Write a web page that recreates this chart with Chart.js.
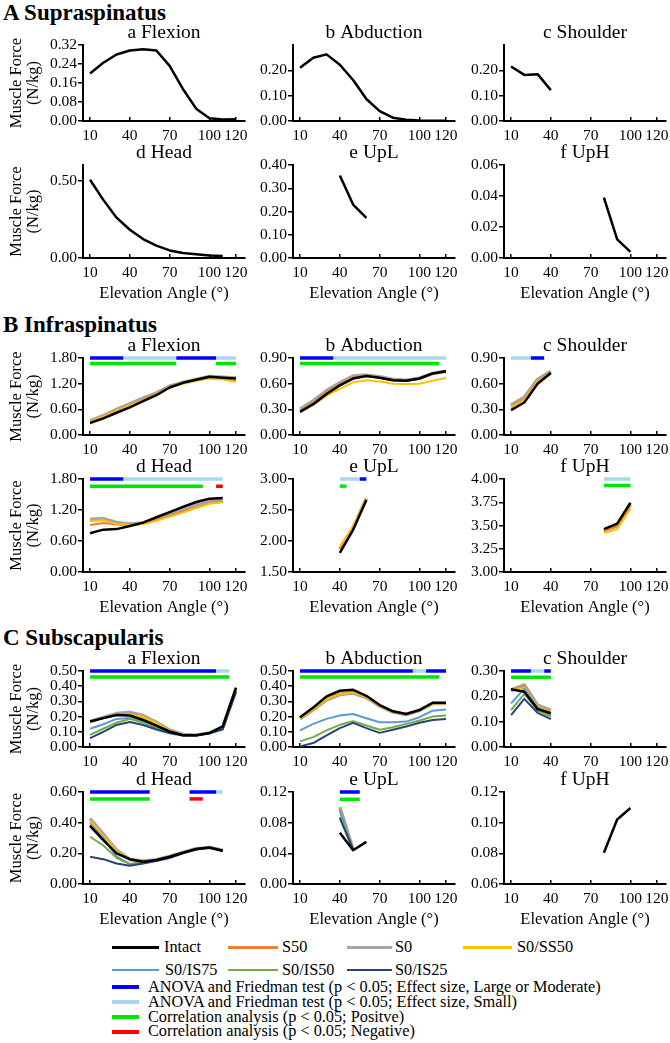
<!DOCTYPE html>
<html><head><meta charset="utf-8">
<script src="https://cdn.jsdelivr.net/npm/chart.js@4.4.0/dist/chart.umd.min.js"></script>
<style>
html,body{margin:0;padding:0;background:#fff;}
body{width:670px;height:1043px;position:relative;overflow:hidden;font-family:"Liberation Serif","Times New Roman",serif;color:#000;}
canvas{position:absolute;}
.hdr{position:absolute;left:3px;font-weight:bold;font-size:23px;line-height:26px;white-space:nowrap;}
.lg{position:absolute;font-size:16.3px;line-height:16px;white-space:nowrap;}
.ln{position:absolute;}
</style></head><body>
<div class="hdr" style="top:0px">A Supraspinatus</div>
<div class="hdr" style="top:312px">B Infraspinatus</div>
<div class="hdr" style="top:625px">C Subscapularis</div>
<div id="legend"></div>
<script>
// ---------- DATA ----------
const angles = [10, 20, 30, 40, 50, 60, 70, 80, 90, 100, 110, 120];
const xTickLabels = [10, 40, 70, 100, 120];

// A Supraspinatus (Intact only)
const supFlexIntact = [0.200, 0.245, 0.280, 0.297, 0.302, 0.297, 0.232, 0.135, 0.052, 0.012, 0.006, 0.007];
const supAbdIntact  = [0.210, 0.250, 0.263, 0.222, 0.162, 0.087, 0.039, 0.013, 0.005, 0.002, 0.001, 0.001];
const supShoIntact  = [0.215, 0.182, 0.185, 0.122];
const supHeadIntact = [0.505, 0.375, 0.260, 0.182, 0.122, 0.080, 0.049, 0.032, 0.024, 0.016, 0.013, null];
const supUpLIntact  = [null, null, null, 0.355, 0.230, 0.173];
const supUpHIntact  = [null, null, null, null, null, null, null, 0.039, 0.012, 0.004];

// B Infraspinatus
const infFlexIntact = [0.28, 0.39, 0.52, 0.645, 0.79, 0.93, 1.11, 1.22, 1.29, 1.36, 1.34, 1.32];
const infFlexS50    = [0.31, 0.43, 0.57, 0.70, 0.83, 0.96, 1.12, 1.21, 1.28, 1.33, 1.31, 1.26];
const infFlexS0     = [0.33, 0.45, 0.60, 0.73, 0.86, 0.98, 1.14, 1.23, 1.30, 1.37, 1.35, 1.33];
const infFlexSS50   = [0.31, 0.43, 0.57, 0.70, 0.815, 0.945, 1.11, 1.20, 1.27, 1.32, 1.30, 1.24];

const infAbdIntact = [0.27, 0.36, 0.48, 0.58, 0.66, 0.69, 0.67, 0.64, 0.635, 0.66, 0.72, 0.745];
const infAbdS50    = [0.28, 0.38, 0.50, 0.59, 0.67, 0.69, 0.67, 0.64, 0.63, 0.655, 0.715, 0.74];
const infAbdS0     = [0.30, 0.40, 0.52, 0.61, 0.69, 0.70, 0.68, 0.65, 0.64, 0.665, 0.72, 0.745];
const infAbdSS50   = [0.27, 0.355, 0.46, 0.54, 0.615, 0.64, 0.625, 0.60, 0.595, 0.60, 0.635, 0.665];

const infShoIntact = [0.29, 0.38, 0.60, 0.725];
const infShoS50    = [0.33, 0.42, 0.63, 0.73];
const infShoS0     = [0.35, 0.44, 0.65, 0.745];
const infShoSS50   = [0.32, 0.41, 0.625, 0.72];

const infHeadIntact = [0.75, 0.82, 0.83, 0.89, 0.955, 1.06, 1.16, 1.26, 1.355, 1.42, 1.43, null];
const infHeadS50    = [0.91, 0.95, 0.92, 0.90, 0.935, 1.00, 1.09, 1.17, 1.25, 1.33, 1.36, null];
const infHeadS0     = [1.02, 1.03, 0.96, 0.93, 0.95, 1.02, 1.12, 1.21, 1.30, 1.38, 1.40, null];
const infHeadSS50   = [0.98, 1.00, 0.93, 0.91, 0.93, 0.99, 1.07, 1.15, 1.24, 1.32, 1.35, null];

const infUpLIntact = [null, null, null, 1.81, 2.18, 2.66];
const infUpLS50    = [null, null, null, 1.88, 2.22, 2.68];
const infUpLS0     = [null, null, null, 1.87, 2.21, 2.69];
const infUpLSS50   = [null, null, null, 1.91, 2.24, 2.69];

const infUpHIntact = [null, null, null, null, null, null, null, 3.46, 3.52, 3.745];
const infUpHS50    = [null, null, null, null, null, null, null, 3.44, 3.49, 3.71];
const infUpHS0     = [null, null, null, null, null, null, null, 3.45, 3.50, 3.73];
const infUpHSS50   = [null, null, null, null, null, null, null, 3.42, 3.46, 3.68];

// C Subscapularis
const subFlexIntact = [0.168, 0.190, 0.211, 0.207, 0.178, 0.141, 0.102, 0.077, 0.077, 0.092, 0.135, 0.390];
const subFlexS50    = [0.165, 0.190, 0.210, 0.217, 0.196, 0.152, 0.105, 0.080, 0.078, 0.093, 0.130, 0.385];
const subFlexS0     = [0.168, 0.195, 0.220, 0.228, 0.207, 0.163, 0.110, 0.082, 0.078, 0.093, 0.130, 0.380];
const subFlexSS50   = [0.165, 0.190, 0.210, 0.215, 0.198, 0.158, 0.107, 0.080, 0.078, 0.093, 0.130, 0.383];
const subFlexIS75   = [0.120, 0.150, 0.185, 0.190, 0.165, 0.130, 0.100, 0.080, 0.078, 0.090, 0.120, 0.370];
const subFlexIS50   = [0.080, 0.120, 0.160, 0.185, 0.160, 0.125, 0.095, 0.078, 0.077, 0.090, 0.120, 0.370];
const subFlexIS25   = [0.058, 0.100, 0.145, 0.165, 0.145, 0.115, 0.090, 0.076, 0.076, 0.090, 0.115, 0.360];

const subAbdIntact = [0.196, 0.260, 0.333, 0.370, 0.376, 0.337, 0.276, 0.235, 0.217, 0.243, 0.291, 0.291];
const subAbdS50    = [0.190, 0.250, 0.320, 0.350, 0.365, 0.330, 0.272, 0.232, 0.215, 0.240, 0.288, 0.288];
const subAbdS0     = [0.185, 0.245, 0.310, 0.345, 0.355, 0.325, 0.270, 0.230, 0.214, 0.240, 0.287, 0.287];
const subAbdSS50   = [0.190, 0.248, 0.315, 0.348, 0.360, 0.328, 0.270, 0.232, 0.215, 0.240, 0.288, 0.288];
const subAbdIS75   = [0.109, 0.152, 0.185, 0.207, 0.217, 0.189, 0.163, 0.163, 0.167, 0.196, 0.239, 0.246];
const subAbdIS50   = [0.037, 0.065, 0.109, 0.146, 0.170, 0.141, 0.113, 0.130, 0.152, 0.174, 0.200, 0.207];
const subAbdIS25   = [0.004, 0.026, 0.076, 0.124, 0.159, 0.124, 0.093, 0.113, 0.135, 0.159, 0.178, 0.185];

const subShoIntact = [0.228, 0.218, 0.150, 0.133];
const subShoS50    = [0.220, 0.240, 0.160, 0.140];
const subShoS0     = [0.225, 0.245, 0.165, 0.145];
const subShoSS50   = [0.220, 0.235, 0.158, 0.138];
const subShoIS75   = [0.172, 0.230, 0.155, 0.125];
const subShoIS50   = [0.146, 0.210, 0.145, 0.120];
const subShoIS25   = [0.126, 0.190, 0.135, 0.110];

const subHeadIntact = [0.379, 0.286, 0.200, 0.162, 0.145, 0.156, 0.178, 0.204, 0.228, 0.238, 0.217, null];
const subHeadS50    = [0.405, 0.310, 0.210, 0.160, 0.148, 0.157, 0.178, 0.205, 0.228, 0.236, 0.218, null];
const subHeadS0     = [0.427, 0.325, 0.220, 0.160, 0.150, 0.158, 0.180, 0.206, 0.230, 0.238, 0.220, null];
const subHeadSS50   = [0.415, 0.315, 0.212, 0.160, 0.148, 0.157, 0.178, 0.205, 0.228, 0.237, 0.218, null];
const subHeadIS75   = [0.390, 0.300, 0.180, 0.130, 0.140, 0.155, 0.175, 0.203, 0.228, 0.238, 0.220, null];
const subHeadIS50   = [0.308, 0.251, 0.171, 0.130, 0.140, 0.155, 0.175, 0.203, 0.228, 0.238, 0.220, null];
const subHeadIS25   = [0.178, 0.162, 0.134, 0.119, 0.134, 0.150, 0.170, 0.200, 0.225, 0.236, 0.215, null];

const subUpLIntact = [null, null, null, 0.067, 0.044, 0.055];
const subUpLS50    = [null, null, null, 0.098, 0.045];
const subUpLS0     = [null, null, null, 0.100, 0.045];
const subUpLSS50   = [null, null, null, 0.097, 0.045];
const subUpLIS75   = [null, null, null, 0.096, 0.045];
const subUpLIS50   = [null, null, null, 0.0875, 0.045];
const subUpLIS25   = [null, null, null, 0.086, 0.045];

const subUpHIntact = [null, null, null, null, null, null, null, 0.0804, 0.1021, 0.1096];

// Significance ranges [start angle, end angle, kind]  L=large/moderate, S=small, P=positive corr, N=negative corr
const infFlexSig = [[10, 35, 'L'], [35, 75, 'S'], [75, 105, 'L'], [105, 120, 'S'], [10, 75, 'P'], [105, 120, 'P']];
const infAbdSig  = [[10, 35, 'L'], [35, 120, 'S'], [10, 115, 'P']];
const infShoSig  = [[10, 25, 'S'], [25, 35, 'L']];
const infHeadSig = [[10, 35, 'L'], [35, 110, 'S'], [10, 95, 'P'], [105, 110, 'N']];
const infUpLSig  = [[40, 55, 'S'], [55, 60, 'L'], [40, 45, 'P']];
const infUpHSig  = [[80, 100, 'S'], [80, 100, 'P']];
const subFlexSig = [[10, 105, 'L'], [105, 115, 'S'], [10, 115, 'P']];
const subAbdSig  = [[10, 95, 'L'], [95, 105, 'S'], [105, 120, 'L'], [10, 115, 'P']];
const subShoSig  = [[10, 25, 'L'], [25, 35, 'S'], [35, 40, 'L'], [10, 40, 'P']];
const subHeadSig = [[10, 55, 'L'], [85, 105, 'L'], [105, 110, 'S'], [10, 55, 'P'], [85, 95, 'N']];
const subUpLSig  = [[40, 55, 'L'], [40, 55, 'P']];

// y tick labels per panel
const supFlexTicks = [0, 0.08, 0.16, 0.24, 0.32];
const supAbdTicks  = [0, 0.10, 0.20];
const supShoTicks  = [0, 0.10, 0.20];
const supHeadTicks = [0, 0.50];
const supUpLTicks  = [0, 0.10, 0.20, 0.30, 0.40];
const supUpHTicks  = [0, 0.02, 0.04, 0.06];
const infFlexTicks = [0, 0.60, 1.20, 1.80];
const infAbdTicks  = [0, 0.30, 0.60, 0.90];
const infShoTicks  = [0, 0.30, 0.60, 0.90];
const infHeadTicks = [0, 0.60, 1.20, 1.80];
const infUpLTicks  = [1.50, 2.00, 2.50, 3.00];
const infUpHTicks  = [3.00, 3.25, 3.50, 3.75, 4.00];
const subFlexTicks = [0, 0.10, 0.20, 0.30, 0.40, 0.50];
const subAbdTicks  = [0, 0.10, 0.20, 0.30, 0.40, 0.50];
const subShoTicks  = [0, 0.10, 0.20, 0.30];
const subHeadTicks = [0, 0.20, 0.40, 0.60];
const subUpLTicks  = [0, 0.04, 0.08, 0.12];
const subUpHTicks  = [0.06, 0.08, 0.10, 0.12];

// ---------- STYLE / LAYOUT ----------
const FONT = '"Liberation Serif", "Times New Roman", serif';
Chart.defaults.font.family = FONT;
Chart.defaults.font.weight = 'normal';
Chart.defaults.color = '#000';
const COL = {Intact:'#000000', S50:'#ED7D31', S0:'#A5A5A5', SS50:'#FFC000', IS75:'#5B9BD5', IS50:'#70AD47', IS25:'#264478'};
const LW = {Intact:2.5, S50:2, S0:3.5, SS50:2, IS75:2, IS50:2, IS25:2};
const ORD = {Intact:0, IS25:1, IS50:2, IS75:3, SS50:4, S50:5, S0:6};
const BARC = {L:'#0000FF', S:'#A8D8EE', P:'#00E600', N:'#FF0000'};
const COL_L = [83, 293, 504];
const PLOT_W = 162;
const ROWS = [[45,121],[165,258],[358,435],[479,572],[671,747],[792,884]];
const TITLE_H = 24;

function pts(arr){ return angles.map((a,i)=>({x:a, y:(arr[i]===undefined?null:arr[i])})); }

function panel(o){
  const L = COL_L[o.col], T = ROWS[o.row][0], B = ROWS[o.row][1];
  const yw = o.col===0 ? 83 : 50;
  const xh = o.xTitle ? 46 : 26;
  const cv = document.createElement('canvas');
  const W = yw + PLOT_W + 20, H = TITLE_H + (B-T) + xh;
  cv.width = W; cv.height = H;
  cv.style.left = (L-yw)+'px'; cv.style.top = (T-TITLE_H)+'px';
  cv.style.width = W+'px'; cv.style.height = H+'px';
  document.body.appendChild(cv);
  const ds = [];
  for (const k of Object.keys(o.series)) {
    ds.push({data:pts(o.series[k]), borderColor:COL[k], borderWidth:LW[k], pointRadius:0, tension:0, spanGaps:false, order:ORD[k], clip:false, borderJoinStyle:'round'});
  }
  for (const s of (o.sig||[])) {
    const lvl = (s[2]==='L'||s[2]==='S') ? o.max : o.lvl2;
    ds.push({data:[{x:s[0],y:lvl},{x:s[1],y:lvl}], borderColor:BARC[s[2]], borderWidth:3.5, pointRadius:0, borderCapStyle:'butt', order:(s[2]==='L'?-2:-1), clip:false});
  }
  const tickFont = {family:FONT, size:15.5, weight:'normal'};
  new Chart(cv, {
    type:'line',
    data:{datasets:ds},
    options:{
      responsive:false, animation:false, devicePixelRatio:1,
      layout:{padding:{left:0, right:20, top:0.6, bottom:0}},
      plugins:{legend:{display:false}, tooltip:{enabled:false},
        title:{display:true, text:o.title, fullSize:false, color:'#000', font:{family:FONT, size:19.5, weight:'normal', lineHeight:1.2}, padding:0}},
      scales:{
        x:{type:'linear', min:4.7, max:126.8, bounds:'data',
          afterBuildTicks: ax => { ax.ticks = xTickLabels.map(v=>({value:v})); },
          afterFit: ax => { ax.height = xh; },
          ticks:{autoSkip:false, maxRotation:0, color:'#000', padding:10, font:tickFont, callback:v=>String(v)},
          grid:{display:true, drawOnChartArea:false, drawTicks:true, tickLength:-4, color:'#000', lineWidth:1.5},
          border:{display:true, color:'#000', width:2},
          title:{display:!!o.xTitle, text:'Elevation Angle (°)', color:'#000', font:{family:FONT, size:16.5, weight:'normal', lineHeight:1.2}, padding:{top:0,bottom:0}}
        },
        y:{type:'linear', min:o.min, max:o.max, bounds:'data',
          afterBuildTicks: ax => { ax.ticks = o.ticks.map(v=>({value:v})); },
          afterFit: ax => { ax.width = yw; },
          ticks:{autoSkip:false, color:'#000', padding:1, font:tickFont, callback:v=>Number(v).toFixed(2)},
          grid:{display:true, drawOnChartArea:false, drawTicks:true, tickLength:5, color:'#000', lineWidth:1.5},
          border:{display:true, color:'#000', width:2},
          title:{display:o.col===0, text:['Muscle Force','(N/kg)'], color:'#000', font:{family:FONT, size:16.5, weight:'normal', lineHeight:1.03}, padding:{top:8.5,bottom:0}}
        }
      }
    }
  });
}

// A
panel({col:0,row:0,title:'a Flexion',  min:0,max:0.32,ticks:supFlexTicks,series:{Intact:supFlexIntact}});
panel({col:1,row:0,title:'b Abduction',min:0,max:0.30,ticks:supAbdTicks, series:{Intact:supAbdIntact}});
panel({col:2,row:0,title:'c Shoulder', min:0,max:0.30,ticks:supShoTicks, series:{Intact:supShoIntact}});
panel({col:0,row:1,title:'d Head',     min:0,max:0.60,ticks:supHeadTicks,series:{Intact:supHeadIntact},xTitle:true});
panel({col:1,row:1,title:'e UpL',      min:0,max:0.40,ticks:supUpLTicks, series:{Intact:supUpLIntact},xTitle:true});
panel({col:2,row:1,title:'f UpH',      min:0,max:0.06,ticks:supUpHTicks, series:{Intact:supUpHIntact},xTitle:true});
// B
panel({col:0,row:2,title:'a Flexion',  min:0,max:1.80,ticks:infFlexTicks,lvl2:1.67,sig:infFlexSig,
  series:{Intact:infFlexIntact,S50:infFlexS50,S0:infFlexS0,SS50:infFlexSS50}});
panel({col:1,row:2,title:'b Abduction',min:0,max:0.90,ticks:infAbdTicks,lvl2:0.835,sig:infAbdSig,
  series:{Intact:infAbdIntact,S50:infAbdS50,S0:infAbdS0,SS50:infAbdSS50}});
panel({col:2,row:2,title:'c Shoulder', min:0,max:0.90,ticks:infShoTicks,lvl2:0.835,sig:infShoSig,
  series:{Intact:infShoIntact,S50:infShoS50,S0:infShoS0,SS50:infShoSS50}});
panel({col:0,row:3,title:'d Head',     min:0,max:1.80,ticks:infHeadTicks,lvl2:1.66,sig:infHeadSig,xTitle:true,
  series:{Intact:infHeadIntact,S50:infHeadS50,S0:infHeadS0,SS50:infHeadSS50}});
panel({col:1,row:3,title:'e UpL',      min:1.5,max:3.0,ticks:infUpLTicks,lvl2:2.885,sig:infUpLSig,xTitle:true,
  series:{Intact:infUpLIntact,S50:infUpLS50,S0:infUpLS0,SS50:infUpLSS50}});
panel({col:2,row:3,title:'f UpH',      min:3.0,max:4.0,ticks:infUpHTicks,lvl2:3.93,sig:infUpHSig,xTitle:true,
  series:{Intact:infUpHIntact,S50:infUpHS50,S0:infUpHS0,SS50:infUpHSS50}});
// C
panel({col:0,row:4,title:'a Flexion',  min:0,max:0.50,ticks:subFlexTicks,lvl2:0.46,sig:subFlexSig,
  series:{Intact:subFlexIntact,S50:subFlexS50,S0:subFlexS0,SS50:subFlexSS50,IS75:subFlexIS75,IS50:subFlexIS50,IS25:subFlexIS25}});
panel({col:1,row:4,title:'b Abduction',min:0,max:0.50,ticks:subAbdTicks,lvl2:0.46,sig:subAbdSig,
  series:{Intact:subAbdIntact,S50:subAbdS50,S0:subAbdS0,SS50:subAbdSS50,IS75:subAbdIS75,IS50:subAbdIS50,IS25:subAbdIS25}});
panel({col:2,row:4,title:'c Shoulder', min:0,max:0.30,ticks:subShoTicks,lvl2:0.275,sig:subShoSig,
  series:{Intact:subShoIntact,S50:subShoS50,S0:subShoS0,SS50:subShoSS50,IS75:subShoIS75,IS50:subShoIS50,IS25:subShoIS25}});
panel({col:0,row:5,title:'d Head',     min:0,max:0.60,ticks:subHeadTicks,lvl2:0.555,sig:subHeadSig,xTitle:true,
  series:{Intact:subHeadIntact,S50:subHeadS50,S0:subHeadS0,SS50:subHeadSS50,IS75:subHeadIS75,IS50:subHeadIS50,IS25:subHeadIS25}});
panel({col:1,row:5,title:'e UpL',      min:0,max:0.12,ticks:subUpLTicks,lvl2:0.1105,sig:subUpLSig,xTitle:true,
  series:{Intact:subUpLIntact,S50:subUpLS50,S0:subUpLS0,SS50:subUpLSS50,IS75:subUpLIS75,IS50:subUpLIS50,IS25:subUpLIS25}});
panel({col:2,row:5,title:'f UpH',      min:0.06,max:0.12,ticks:subUpHTicks,xTitle:true,
  series:{Intact:subUpHIntact}});

// ---------- LEGEND ----------
const legendSeries = [
  ['Intact', 'Intact', 112, 159, 164, 947.5], ['S50', 'S50', 228, 278, 282, 947.5],
  ['S0', 'S0', 347, 392, 395, 947.5], ['SS50', 'S0/SS50', 463, 512, 517, 947.5],
  ['IS75', 'S0/IS75', 112, 159, 165, 970], ['IS50', 'S0/IS50', 228, 278, 282, 970],
  ['IS25', 'S0/IS25', 347, 392, 395, 970]
];
const legendStats = [
  ['L', 'ANOVA and Friedman test (p < 0.05; Effect size, Large or Moderate)', 987],
  ['S', 'ANOVA and Friedman test (p < 0.05; Effect size, Small)', 1002],
  ['P', 'Correlation analysis (p < 0.05; Positve)', 1017],
  ['N', 'Correlation analysis (p < 0.05; Negative)', 1031.5]
];
const lg = document.getElementById('legend');
function addLine(x1,x2,cy,w,c){ const d=document.createElement('div'); d.className='ln';
  d.style.left=x1+'px'; d.style.width=(x2-x1)+'px'; d.style.top=(cy-w/2)+'px'; d.style.height=w+'px'; d.style.background=c; lg.appendChild(d); }
function addText(x,cy,t){ const d=document.createElement('div'); d.className='lg'; d.style.left=x+'px'; d.style.top=(cy-8.3)+'px'; d.textContent=t; lg.appendChild(d); }
for (const s of legendSeries){ addLine(s[2],s[3],s[5],s[0]==='Intact'?3:2.2,COL[s[0]]); addText(s[4],s[5],s[1]); }
for (const s of legendStats){ addLine(112,139,s[2],4,BARC[s[0]]); addText(148,s[2],s[1]); }
</script>
</body></html>
